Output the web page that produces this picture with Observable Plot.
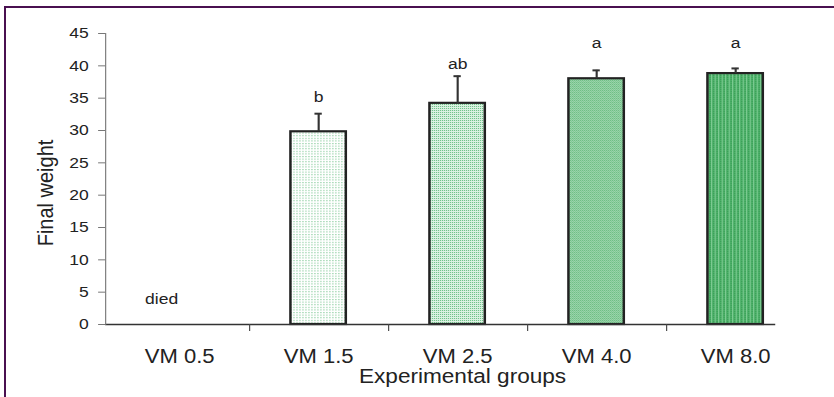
<!DOCTYPE html>
<html>
<head>
<meta charset="utf-8">
<script src="https://cdn.jsdelivr.net/npm/d3@7"></script>
<script src="https://cdn.jsdelivr.net/npm/@observablehq/plot@0.6"></script>
<style>
  html, body { margin: 0; padding: 0; background: #fff; overflow: hidden; }
  #wrap { position: relative; width: 834px; height: 397px; }
  #border { position: absolute; left: 4px; top: 6px; right: -10px; bottom: -10px;
            border-left: 2.6px solid #4a1050; border-top: 2.6px solid #4a1050; pointer-events: none; }
</style>
</head>
<body>
<div id="wrap"><div id="border"></div></div>
<script>
// ---- data ----
const categories = ["VM 0.5", "VM 1.5", "VM 2.5", "VM 4.0", "VM 8.0"];
const means      = [null, 29.8, 34.2, 38.0, 38.8];
const errors     = [null, 2.8, 4.2, 1.3, 0.8];
const letters    = ["", "b", "ab", "a", "a"];
const letterAt   = [null, 35.1, 40.3, 43.6, 43.6];
const yTicks     = [0, 5, 10, 15, 20, 25, 30, 35, 40, 45];
const diedNote   = [{cat: "VM 0.5", text: "died", at: 4}];
const xTitle = "Experimental groups";
const yTitle = "Final weight";

// ---- styles ----
const patterns = ["", "url(#pv1)", "url(#pv2)", "url(#pv3)", "url(#pv4)"];

const rows = categories.map((c, i) => ({
  i, cat: c, mean: means[i], err: errors[i], letter: letters[i], at: letterAt[i], fill: patterns[i]
}));
const bars = rows.filter(d => d.mean != null);

// layout (drawn in an unstretched space, then stretched horizontally like the reference)
const W = 738, H = 397;
const xRange = [95.6, 714.6];
const step = (xRange[1] - xRange[0]) / 5;
const bw = step * 0.4;
const capW = 7;

const chart = Plot.plot({
  width: W, height: H,
  marginLeft: 93, marginRight: 52, marginTop: 33, marginBottom: 73,
  style: {fontFamily: "'Liberation Sans', Arial, sans-serif", background: "white", color: "#222"},
  x: {type: "band", domain: categories, range: xRange, paddingInner: 0.6, paddingOuter: 0.3},
  y: {domain: [0, 45]},
  color: {type: "identity"},
  marks: [
    Plot.barY(bars, {x: "cat", y: "mean", fill: "fill", stroke: "#222", strokeWidth: 2.2}),
    Plot.ruleX(bars, {x: "cat", y1: "mean", y2: d => d.mean + d.err, stroke: "#333", strokeWidth: 1.9}),
    Plot.tickY(bars, {x: "cat", y: d => d.mean + d.err, stroke: "#333", strokeWidth: 2,
                      insetLeft: (bw - capW) / 2, insetRight: (bw - capW) / 2}),
    Plot.text(bars, {x: "cat", y: "at", text: "letter", fontSize: 15.5, fill: "#222"}),
    Plot.text(diedNote, {x: "cat", y: "at", text: "text", dx: -16, fontSize: 15.5, fill: "#222"}),
    Plot.ruleY([0], {stroke: "#333", strokeWidth: 1.5}),
    Plot.frame({anchor: "left", stroke: "#777"}),
    Plot.axisY({ticks: yTicks, tickSize: 6.2, tickPadding: 8.8, fontSize: 15.5, stroke: "#777", fill: "#222", label: null}),
    Plot.axisX({tickSize: 0, tickPadding: 25, fontSize: 19.5, fill: "#222", label: null}),
    Plot.axisX({ticks: categories.slice(0, 4), tickSize: 7, dx: step / 2, stroke: "#444", fill: "none", label: null}),
    Plot.text([yTitle], {frameAnchor: "left", textAnchor: "middle", lineAnchor: "middle",
                         rotate: -90, dx: -53, dy: 14, fontSize: 20, fill: "#222"}),
    Plot.text([xTitle], {frameAnchor: "bottom", textAnchor: "middle", lineAnchor: "middle",
                         dx: 19.3, dy: 52, fontSize: 20, fill: "#222"})
  ]
});

// patterned fills like the reference's stippled bars
const defs = `
<defs>
  <pattern id="pv1" patternUnits="userSpaceOnUse" width="2.65" height="2.6">
    <rect width="2.65" height="2.6" fill="#ffffff"/>
    <rect width="0.9" height="1.1" fill="#6cc086"/>
  </pattern>
  <pattern id="pv2" patternUnits="userSpaceOnUse" width="1.77" height="2">
    <rect width="1.77" height="2" fill="#dcf2e3"/>
    <rect width="0.8" height="1" fill="#66bd80"/>
  </pattern>
  <pattern id="pv3" patternUnits="userSpaceOnUse" width="1.77" height="2">
    <rect width="1.77" height="2" fill="#9dd6ad"/>
    <rect width="0.88" height="1" fill="#6cbd83"/>
    <rect x="0.88" y="1" width="0.88" height="1" fill="#7cc592"/>
  </pattern>
  <pattern id="pv4" patternUnits="userSpaceOnUse" width="3.1" height="2">
    <rect width="3.1" height="2" fill="#4aae66"/>
    <rect width="0.9" height="2" fill="#83cf98"/>
    <rect x="1.8" y="1" width="0.9" height="1" fill="#339a52"/>
  </pattern>
</defs>`;
chart.insertAdjacentHTML("afterbegin", defs);

chart.setAttribute("width", 834);
chart.setAttribute("height", 397);
chart.setAttribute("viewBox", `0 0 ${W} ${H}`);
chart.setAttribute("preserveAspectRatio", "none");
chart.style.width = "834px";
chart.style.height = "397px";
chart.style.maxWidth = "none";
document.getElementById("wrap").insertBefore(chart, document.getElementById("border"));
</script>
</body>
</html>
